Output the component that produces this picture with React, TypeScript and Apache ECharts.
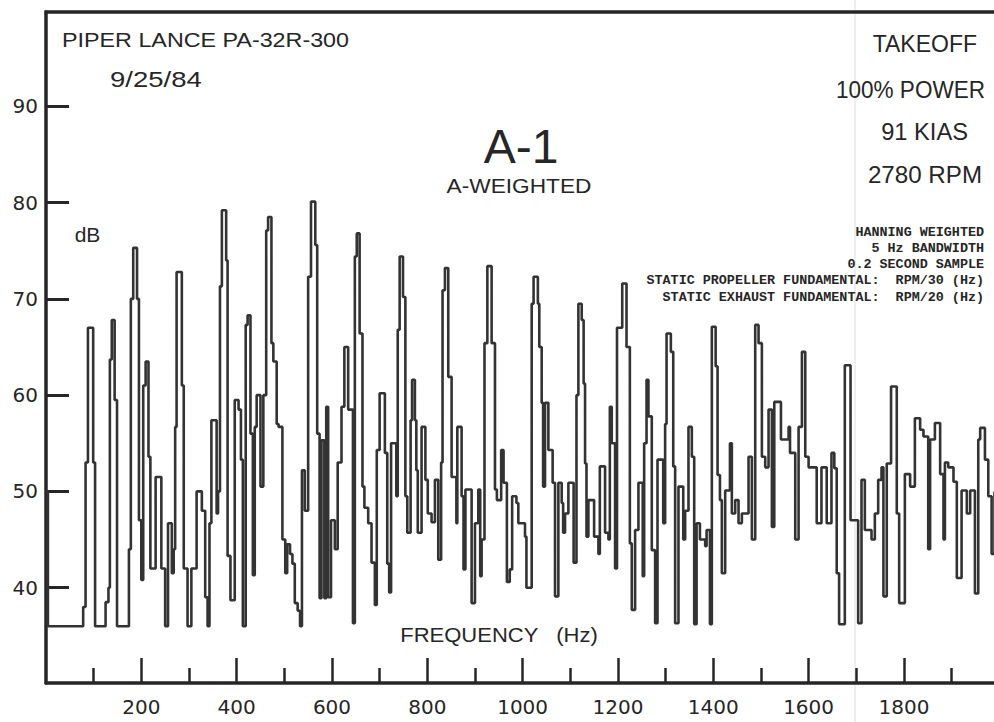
import React, { useEffect, useRef } from "react";
import * as echarts from "echarts";

// Spectrum step points: frequency (Hz) where a level starts, and level (dB)
const freqHz = [
  0, 4, 78, 83, 88, 99, 103, 125, 131, 134,
  138, 144, 149, 174, 178, 183, 191, 195, 200, 204,
  209, 215, 219, 230, 242, 250, 256, 264, 268, 271,
  274, 285, 289, 297, 305, 316, 327, 334, 339, 343,
  347, 358, 361, 365, 369, 378, 381, 387, 396, 404,
  409, 413, 419, 423, 429, 434, 438, 442, 450, 456,
  462, 466, 473, 477, 484, 488, 496, 502, 506, 512,
  517, 522, 528, 533, 537, 543, 550, 556, 565, 569,
  574, 578, 584, 588, 592, 598, 606, 612, 620, 626,
  634, 644, 648, 652, 658, 664, 668, 676, 683, 690,
  694, 700, 711, 716, 720, 724, 735, 738, 742, 749,
  754, 758, 765, 768, 774, 777, 780, 788, 796, 801,
  809, 816, 823, 829, 832, 837, 844, 851, 861, 863,
  872, 876, 880, 893, 900, 907, 911, 914, 920, 926,
  935, 942, 946, 955, 960, 967, 973, 978, 987, 991,
  1005, 1008, 1019, 1023, 1032, 1035, 1040, 1043, 1047, 1054,
  1063, 1068, 1075, 1082, 1085, 1089, 1096, 1107, 1113, 1117,
  1124, 1128, 1131, 1134, 1138, 1150, 1159, 1162, 1173, 1180,
  1183, 1187, 1194, 1198, 1209, 1218, 1225, 1229, 1236, 1243,
  1252, 1255, 1260, 1264, 1271, 1278, 1283, 1295, 1299, 1302,
  1311, 1316, 1320, 1327, 1337, 1341, 1348, 1355, 1360, 1365,
  1372, 1383, 1386, 1393, 1397, 1405, 1409, 1414, 1418, 1425,
  1435, 1439, 1446, 1453, 1460, 1474, 1481, 1488, 1495, 1502,
  1509, 1516, 1523, 1528, 1542, 1558, 1561, 1572, 1579, 1586,
  1593, 1600, 1617, 1627, 1638, 1648, 1654, 1659, 1664, 1676,
  1688, 1704, 1711, 1718, 1732, 1739, 1746, 1753, 1757, 1764,
  1773, 1785, 1790, 1802, 1813, 1823, 1834, 1841, 1851, 1855,
  1865, 1876, 1883, 1886, 1893, 1904, 1911, 1921, 1932, 1939,
  1949, 1956, 1960, 1970, 1977, 1984, 1990,
];
const levelDb = [
  50, 36, 38, 53, 67, 53, 36, 38.5, 40, 63.7,
  67.8, 59.5, 36, 44, 70, 75.3, 70, 47, 40.8, 61,
  63.5, 53.6, 42, 51.5, 42, 36, 46.7, 41.5, 44, 56.7,
  72.8, 61, 42, 36, 42, 50, 48, 39, 36, 46.7,
  57.4, 47.7, 50, 71.3, 79.2, 74, 43.3, 38.7, 59.5, 58.5,
  53.3, 36, 67.3, 68.3, 56, 41.3, 56.7, 60, 50.5, 60,
  77.1, 78.5, 65.4, 63.5, 57, 56.7, 45, 41.5, 44.5, 43.5,
  42.5, 38.4, 37.6, 36, 52.2, 48, 72.3, 80.1, 75.6, 56,
  38.9, 55.3, 38.9, 58.8, 39, 47, 44, 53, 58.8, 65,
  58.5, 36.3, 74.4, 76.8, 66.4, 50.5, 48.3, 46.7, 42.6, 38.2,
  54.3, 60.2, 54, 42.5, 39.5, 55, 49.5, 66.8, 74.4, 70.2,
  49.5, 45.7, 57.4, 61.6, 57.4, 52.2, 45.7, 56.7, 51.2, 47.7,
  46.8, 51.2, 42.9, 53, 70.9, 73.2, 61.9, 51.5, 46.7, 56.7,
  49.5, 41.9, 50.2, 38.4, 46.7, 50.2, 41.2, 45, 65.4, 73.4,
  65.4, 50.2, 49.1, 54.3, 50.9, 40.6, 41.9, 49.5, 48.8, 46.7,
  45.3, 40, 69.5, 72.3, 69.5, 65, 59.2, 50.5, 59.2, 54.3,
  50.9, 39.1, 50.9, 48.8, 45.7, 47.7, 50.9, 42.6, 60, 69.5,
  67.8, 61.2, 52.9, 45.3, 49.1, 45.3, 43.5, 52.6, 45.7, 45,
  58.8, 55, 42, 67, 71.6, 65, 44.6, 37.7, 46, 50.9,
  41.2, 55, 61.6, 57.8, 43.9, 36.3, 53.3, 46.7, 57, 66.4,
  64.5, 52.6, 36.3, 50.5, 45, 48, 56.7, 53.6, 36.2, 46.7,
  45, 44.3, 46, 36.2, 67.1, 63, 51.7, 49.1, 41.5, 50.1,
  55, 47.7, 49.1, 46.7, 47.7, 53.6, 45, 67.3, 65.4, 53.6,
  52.5, 58.5, 46.3, 59.3, 55.4, 56.7, 54, 45, 56.7, 64.5,
  53.6, 52.5, 46.7, 52.5, 46.7, 54, 52.4, 41.5, 36.2, 63.1,
  47, 36.3, 51.2, 46, 45, 47.7, 51.2, 52.5, 39.1, 52.9,
  60.9, 47.7, 38.4, 51.8, 50.5, 57.6, 56.4, 55.7, 44, 55.4,
  57.1, 51.8, 45, 53, 52.5, 51, 41, 50.1, 47.7, 50.1,
  39.4, 55.4, 56.6, 53.3, 49.5, 43.5, 50,
];

const yTickValues = [40, 50, 60, 70, 80, 90];
const xMajorTicks = [200, 400, 600, 800, 1000, 1200, 1400, 1600, 1800];
const xMinorTicks = [100, 300, 500, 700, 900, 1100, 1300, 1500, 1700, 1900];

const headerLeft = ["PIPER LANCE PA-32R-300", "9/25/84"];
const titleText = "A-1";
const subtitleText = "A-WEIGHTED";
const conditions = ["TAKEOFF", "100% POWER", "91 KIAS", "2780 RPM"];
const notes = [
  "HANNING WEIGHTED",
  "5 Hz BANDWIDTH",
  "0.2 SECOND SAMPLE",
  "STATIC PROPELLER FUNDAMENTAL:  RPM/30 (Hz)",
  "STATIC EXHAUST FUNDAMENTAL:  RPM/20 (Hz)",
];
const yUnit = "dB";
const xName = "FREQUENCY   (Hz)";

const INK = "#262626";
const SANS = "'Liberation Sans', Arial, Helvetica, sans-serif";

function txt(
  text: string,
  x: number,
  y: number,
  size: number,
  align: string,
  scaleX = 1,
  extra: any = {}
) {
  return {
    type: "text",
    x,
    y,
    scaleX,
    silent: true,
    style: {
      text,
      fill: INK,
      font: `${extra.weight || "normal"} ${size}px ${extra.family || SANS}`,
      fontSize: size,
      fontFamily: extra.family || SANS,
      fontWeight: extra.weight || "normal",
      align,
      textAlign: align,
      verticalAlign: "middle",
      textVerticalAlign: "middle",
    },
  };
}

export default function App() {
  const ref = useRef<HTMLDivElement>(null);
  useEffect(() => {
    if (!ref.current) return;
    const chart = echarts.init(ref.current, null, { renderer: "svg" });
    const n = Math.min(freqHz.length, levelDb.length);
    const data = freqHz.slice(0, n).map((f, i) => [f, levelDb[i]]);
    const mono = "'Liberation Mono', 'DejaVu Sans Mono', monospace";
    const graphics: any[] = [
      {
        type: "line",
        silent: true,
        shape: { x1: 855, y1: 0, x2: 855, y2: 722 },
        style: { stroke: "#dedede", lineWidth: 1 },
      },
      {
        type: "line",
        silent: true,
        shape: { x1: 44.5, y1: 12, x2: 994, y2: 12 },
        style: { stroke: INK, lineWidth: 3.5 },
      },
      txt(headerLeft[0], 62, 39.5, 21, "left", 1.11),
      txt(headerLeft[1], 110, 79, 22, "left", 1.25),
      txt(titleText, 521, 146, 48, "center", 1),
      txt(subtitleText, 519, 186, 21, "center", 1.08),
      txt(yUnit, 87.5, 234, 21, "center", 1),
      txt(conditions[0], 977, 43.5, 23, "right", 1),
      txt(conditions[1], 985, 90, 23, "right", 0.98),
      txt(conditions[2], 968, 132.5, 23, "right", 1.03),
      txt(conditions[3], 982, 175, 23, "right", 1.05),
      txt(xName, 499, 635, 20, "center", 1.1),
    ];
    const noteY = [232, 248, 264.5, 280.5, 297];
    notes.forEach((s, i) => {
      graphics.push(txt(s, 984, noteY[i], 13.4, "right", 1, { family: mono, weight: "bold" }));
    });

    chart.setOption({
      animation: false,
      backgroundColor: "#ffffff",
      grid: { left: 46, right: 0, top: 12, bottom: 39, containLabel: false },
      xAxis: [
        {
          type: "value",
          min: 0,
          max: 1989,
          position: "bottom",
          axisLine: { show: true, onZero: false, lineStyle: { color: INK, width: 3.5 } },
          axisTick: {
            show: true,
            inside: true,
            length: 25,
            customValues: xMajorTicks,
            lineStyle: { color: INK, width: 2.5 },
          },
          axisLabel: {
            show: true,
            customValues: xMajorTicks,
            formatter: (v: number) => String(v),
            margin: 14,
            fontSize: 20,
            fontFamily: "'DejaVu Sans', sans-serif",
            color: INK,
          },
          splitLine: { show: false },
        },
        {
          type: "value",
          min: 0,
          max: 1989,
          position: "bottom",
          axisLine: { show: false, onZero: false },
          axisTick: {
            show: true,
            inside: true,
            length: 15,
            customValues: xMinorTicks,
            lineStyle: { color: INK, width: 2.5 },
          },
          axisLabel: { show: false },
          splitLine: { show: false },
        },
      ],
      yAxis: {
        type: "value",
        min: 30.1,
        max: 99.8,
        axisLine: { show: true, onZero: false, lineStyle: { color: INK, width: 3.5 } },
        axisTick: {
          show: true,
          inside: true,
          length: 23,
          customValues: yTickValues,
          lineStyle: { color: INK, width: 3 },
        },
        axisLabel: {
          show: true,
          customValues: yTickValues,
          formatter: (v: number) => String(v),
          margin: 8,
          fontSize: 20,
          fontFamily: "'DejaVu Sans', sans-serif",
          color: INK,
        },
        splitLine: { show: false },
      },
      series: [
        {
          type: "line",
          xAxisIndex: 0,
          step: "end",
          data,
          symbol: "none",
          lineStyle: { color: "#333333", width: 2.6 },
          silent: true,
        },
      ],
      graphic: graphics,
    });
    return () => chart.dispose();
  }, []);
  return (
    <div
      ref={ref}
      style={{ position: "fixed", left: 0, top: 0, width: 994, height: 722, background: "#fff" }}
    />
  );
}
